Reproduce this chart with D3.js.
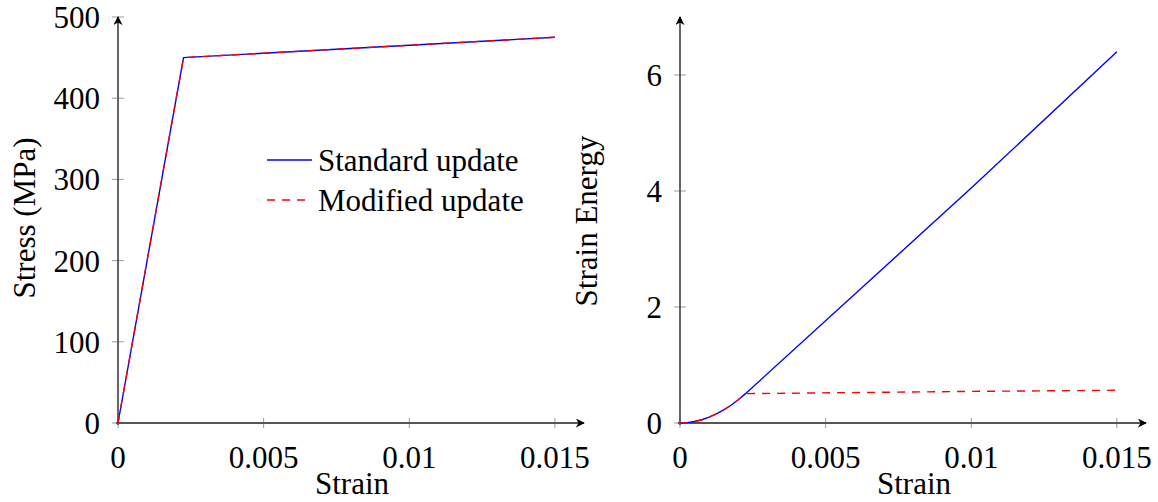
<!DOCTYPE html>
<html>
<head>
<meta charset="utf-8">
<script src="https://cdn.jsdelivr.net/npm/d3@7"></script>
<style>
  body { margin: 0; background: #fff; }
  svg text { font-family: "Liberation Serif", "DejaVu Serif", serif; fill: #000; }
</style>
</head>
<body>
<div id="chart"></div>
<script>
// stress-strain data
const stressStrain = [0, 0.00225, 0.015];
const stressStandard = [0, 450, 475];
const stressModified = [0, 450, 475];

// strain energy data
const energyStrain = [0, 0.00025, 0.0005, 0.00075, 0.001, 0.00125, 0.0015, 0.00175, 0.002, 0.00225, 0.01, 0.015];
const energyStandard = [0, 0.006, 0.025, 0.056, 0.1, 0.156, 0.225, 0.306, 0.4, 0.506, 4.05, 6.40];
const energyModified = [0, 0.006, 0.025, 0.056, 0.1, 0.156, 0.225, 0.306, 0.4, 0.506, 0.545, 0.564];

const xTicks = [0, 0.005, 0.01, 0.015];
const stressTicks = [0, 100, 200, 300, 400, 500];
const energyTicks = [0, 2, 4, 6];
const legendLabels = ["Standard update", "Modified update"];

const W = 1158, H = 502;
const svg = d3.select("#chart").append("svg")
  .attr("width", W).attr("height", H);

const defs = svg.append("defs");
defs.append("marker")
  .attr("id", "arrow")
  .attr("viewBox", "0 0 10 10")
  .attr("refX", 9).attr("refY", 5)
  .attr("markerWidth", 9).attr("markerHeight", 9)
  .attr("markerUnits", "userSpaceOnUse")
  .attr("orient", "auto")
  .append("path")
  .attr("d", "M0,0 L10,5 L0,10 L3,5 Z")
  .attr("fill", "#000");

const fmt = d => d === 0 ? "0" : String(d);

function panel(opts) {
  const x = d3.scaleLinear().domain([0, 0.016]).range(opts.xRange);
  const y = d3.scaleLinear().domain([0, opts.yMax]).range([423, 17]);
  const g = svg.append("g");

  // tick marks
  g.selectAll(".xt").data(xTicks).join("line")
    .attr("x1", d => x(d)).attr("x2", d => x(d))
    .attr("y1", y(0) - 5).attr("y2", y(0) + 5)
    .attr("stroke", "#999").attr("stroke-width", 1);
  g.selectAll(".yt").data(opts.yTicks).join("line")
    .attr("x1", x(0) - 6).attr("x2", x(0) + 6)
    .attr("y1", d => y(d)).attr("y2", d => y(d))
    .attr("stroke", "#999").attr("stroke-width", 1);

  // axis lines
  g.append("line")
    .attr("x1", x(0) - 2).attr("x2", x(0.016))
    .attr("y1", y(0)).attr("y2", y(0))
    .attr("stroke", "#555").attr("stroke-width", 1.8)
    .attr("marker-end", "url(#arrow)");
  g.append("line")
    .attr("x1", x(0)).attr("x2", x(0))
    .attr("y1", y(0) + 2).attr("y2", y(opts.yMax))
    .attr("stroke", "#555").attr("stroke-width", 1.8)
    .attr("marker-end", "url(#arrow)");

  // tick labels
  g.selectAll(".xl").data(xTicks).join("text")
    .attr("x", d => x(d)).attr("y", 468)
    .attr("text-anchor", "middle")
    .attr("font-size", 31)
    .text(fmt);
  g.selectAll(".yl").data(opts.yTicks).join("text")
    .attr("x", x(0) - 18).attr("y", d => y(d) + 11)
    .attr("text-anchor", "end")
    .attr("font-size", 31)
    .text(fmt);

  // axis labels
  g.append("text")
    .attr("x", (x(0) + x(0.016)) / 2 + 1).attr("y", 494)
    .attr("text-anchor", "middle").attr("font-size", 31)
    .text("Strain");
  g.append("text")
    .attr("transform", `translate(${opts.yLabelX},${opts.yLabelY}) rotate(-90)`)
    .attr("text-anchor", "middle").attr("font-size", 31)
    .text(opts.yLabel);

  const line = d3.line()
    .x((d, i) => x(opts.xs[i]))
    .y(d => y(d));

  g.append("path").datum(opts.std)
    .attr("d", line)
    .attr("fill", "none").attr("stroke", "#0000ff").attr("stroke-width", 1.4);
  g.append("path").datum(opts.mod)
    .attr("d", line)
    .attr("fill", "none").attr("stroke", "#ff0000").attr("stroke-width", 1.4)
    .attr("stroke-dasharray", "8,7");
  return g;
}

const left = panel({
  xRange: [118, 584], yMax: 500, yTicks: stressTicks,
  xs: stressStrain, std: stressStandard, mod: stressModified,
  yLabel: "Stress (MPa)", yLabelX: 35, yLabelY: 218
});

panel({
  xRange: [680, 1146], yMax: 7, yTicks: energyTicks,
  xs: energyStrain, std: energyStandard, mod: energyModified,
  yLabel: "Strain Energy", yLabelX: 597, yLabelY: 221
});

// legend
const legend = left.append("g");
legendLabels.forEach((label, i) => {
  const ly = 160 + i * 40;
  legend.append("line")
    .attr("x1", 267).attr("x2", 312).attr("y1", ly).attr("y2", ly)
    .attr("stroke", i === 0 ? "#0000ff" : "#ff0000")
    .attr("stroke-width", 1.4)
    .attr("stroke-dasharray", i === 0 ? null : "8,7");
  legend.append("text")
    .attr("x", 318).attr("y", ly + 11)
    .attr("font-size", 31)
    .text(label);
});
</script>
</body>
</html>
